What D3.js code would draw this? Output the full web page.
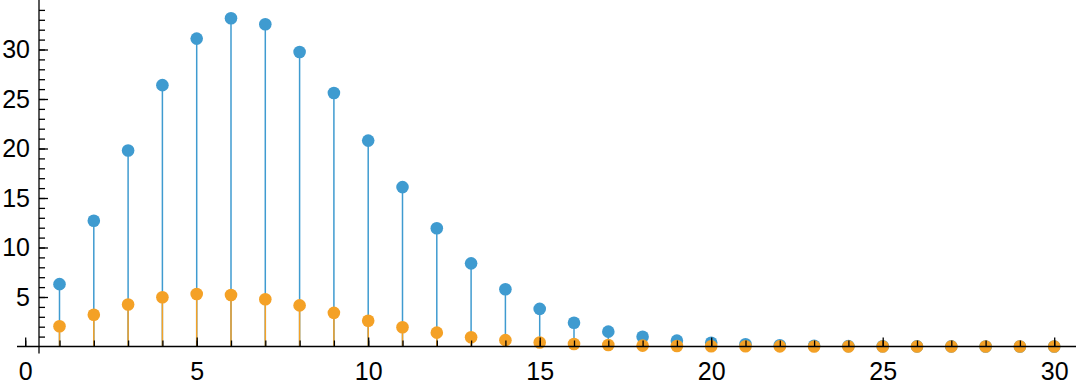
<!DOCTYPE html>
<html>
<head>
<meta charset="utf-8">
<script src="https://cdn.jsdelivr.net/npm/d3@7"></script>
<style>
  html, body { margin: 0; padding: 0; background: #fff; }
  svg { display: block; }
  .axis text { font-family: "Liberation Sans", Arial, sans-serif; font-size: 25px; fill: #000; }
  .axis line { stroke: #000; stroke-width: 1.3; }
</style>
</head>
<body>
<div id="chart"></div>
<script>
// n = 1..30
var nValues = d3.range(1, 31);
var blueValues = [6.3, 12.7, 19.8, 26.4, 31.1, 33.15, 32.55, 29.75, 25.6, 20.8,
                  16.1, 11.95, 8.4, 5.78, 3.8, 2.4, 1.5, 0.99, 0.59, 0.38,
                  0.22, 0.12, 0.07, 0.04, 0.02, 0.01, 0.01, 0, 0, 0];
var orangeValues = [2.05, 3.2, 4.25, 4.97, 5.3, 5.2, 4.77, 4.15, 3.4, 2.6,
                    1.95, 1.4, 0.93, 0.64, 0.41, 0.25, 0.15, 0.09, 0.05, 0.03,
                    0.02, 0.01, 0, 0, 0, 0, 0, 0, 0, 0];
var xMajor = [0, 5, 10, 15, 20, 25, 30];
var yMajor = [5, 10, 15, 20, 25, 30];

var width = 1083, height = 392;
var blue = "#3f9bd0", orange = "#f4a126";

var x = d3.scaleLinear().domain([0, 30]).range([25.2, 1054.2]);
var y = d3.scaleLinear().domain([0, 35]).range([346.5, 0]);

var svg = d3.select("#chart").append("svg")
  .attr("width", width).attr("height", height);

function series(vals) {
  return nValues.map(function(n, i){ return {n: n, v: vals[i]}; });
}

function stems(vals, color) {
  svg.append("g").selectAll("line")
    .data(series(vals)).enter().append("line")
    .attr("x1", function(d){ return x(d.n); })
    .attr("x2", function(d){ return x(d.n); })
    .attr("y1", y(0))
    .attr("y2", function(d){ return y(d.v); })
    .attr("stroke", color)
    .attr("stroke-width", 1.5);
}

function dots(vals, color) {
  svg.append("g").selectAll("circle")
    .data(series(vals)).enter().append("circle")
    .attr("cx", function(d){ return x(d.n); })
    .attr("cy", function(d){ return y(d.v); })
    .attr("r", 6.3)
    .attr("fill", color);
}

stems(blueValues, blue);
stems(orangeValues, orange);
dots(blueValues, blue);
dots(orangeValues, orange);

// axes on top
svg.append("g").attr("class", "axis")
  .attr("transform", "translate(0," + y(0) + ")")
  .call(d3.axisBottom(x).tickValues(d3.range(0, 31)).tickSize(-6).tickFormat(""));
svg.append("g").attr("class", "axis")
  .attr("transform", "translate(0," + y(0) + ")")
  .call(d3.axisBottom(x).tickValues(xMajor).tickSize(-9).tickPadding(16).tickFormat(d3.format("d")));

svg.append("g").attr("class", "axis")
  .attr("transform", "translate(39,0)")
  .call(d3.axisLeft(y).tickValues(d3.range(1, 35)).tickSize(-6).tickFormat(""));
svg.append("g").attr("class", "axis")
  .attr("transform", "translate(39,0)")
  .call(d3.axisLeft(y).tickValues(yMajor).tickSize(-9).tickPadding(9).tickFormat(d3.format("d")));

svg.selectAll(".axis .domain").remove();

svg.append("line")
  .attr("x1", 17).attr("x2", 1076)
  .attr("y1", y(0)).attr("y2", y(0))
  .attr("stroke", "#000").attr("stroke-width", 1.3);
svg.append("line")
  .attr("x1", 39).attr("x2", 39)
  .attr("y1", 0).attr("y2", 353.5)
  .attr("stroke", "#000").attr("stroke-width", 1.3);
</script>
</body>
</html>
